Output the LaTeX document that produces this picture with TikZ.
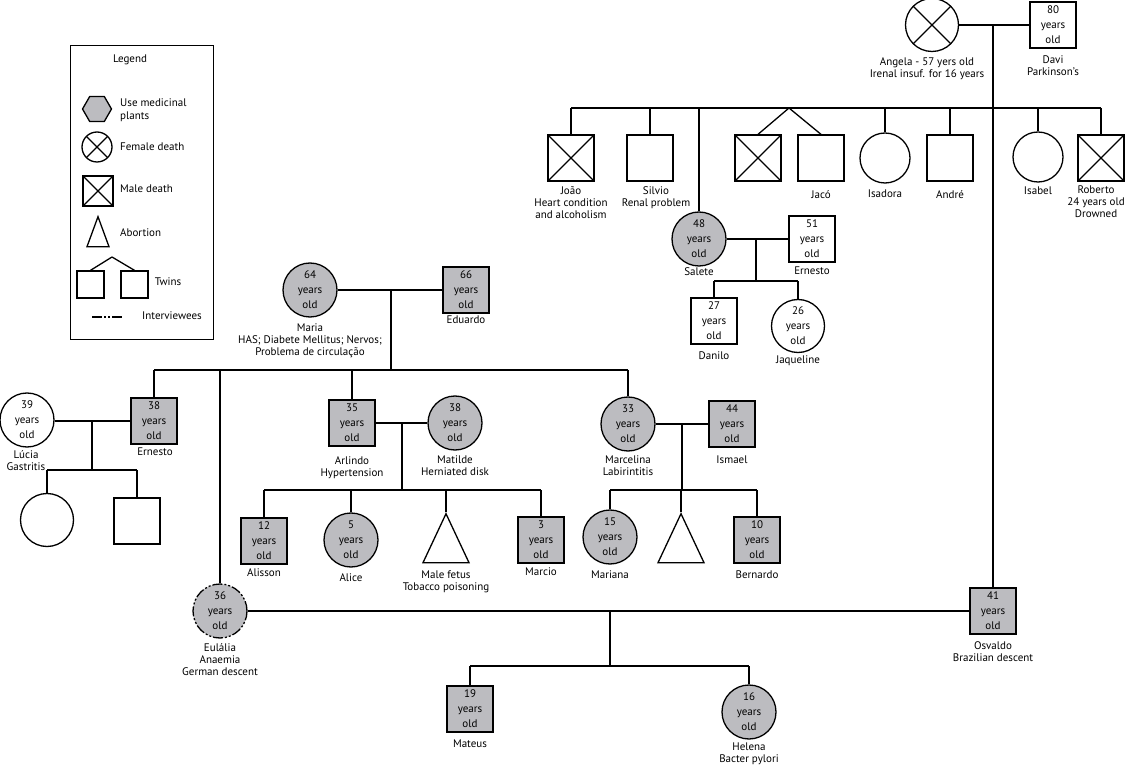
\documentclass[tikz,border=0pt]{standalone}
\usepackage{fontspec}
\setmainfont{PT Sans}
\usetikzlibrary{shapes.geometric}
\definecolor{plantgray}{RGB}{188,188,192}
\begin{document}
\begin{tikzpicture}[x=1pt,y=-1pt]
    \tikzstyle{link}=[line width=1.3pt]
    \tikzstyle{male}=[rectangle,draw,link,minimum size=46pt,inner sep=0pt,align=center,font=\fontsize{11}{15}\selectfont]
    \tikzstyle{female}=[circle,draw,link,minimum size=54pt,inner sep=0pt,align=center,font=\fontsize{11}{15}\selectfont]
    \tikzstyle{plant}=[fill=plantgray]
    \tikzstyle{dead}=[path picture={\draw[link] (path picture bounding box.north west) -- (path picture bounding box.south east) (path picture bounding box.south west) -- (path picture bounding box.north east);}]
    \tikzstyle{fetus}=[isosceles triangle,draw,link,shape border rotate=90,isosceles triangle stretches,minimum width=46pt,minimum height=49pt,inner sep=0pt,anchor=apex]
    \tikzstyle{txt}=[align=center,anchor=north,inner sep=0pt,font=\fontsize{11}{12}\selectfont]
    \tikzstyle{legtxt}=[align=left,anchor=west,inner sep=0pt,font=\fontsize{11}{13}\selectfont]
    \tikzstyle{interview}=[dash pattern=on 10pt off 2pt on 2pt off 2pt on 2pt off 2pt]
    \useasboundingbox (0,0) rectangle (1127,775);

    % legend
    \node[draw,link,minimum width=143pt,minimum height=294pt,inner sep=0pt,anchor=north west] (Legend) at (70,45) {};
    \node[font=\fontsize{11}{13}\selectfont] (LegTitle) at (130,60) {Legend};
    \node[regular polygon,regular polygon sides=6,draw,link,fill=plantgray,minimum size=29pt,inner sep=0pt] (LegPlant) at (97,109) {};
    \node[legtxt] (LegPlantT) at (120,110) {Use medicinal\\plants};
    \node[female,dead,minimum size=30pt] (LegFemale) at (97,147) {};
    \node[legtxt] (LegFemaleT) at (120,147) {Female death};
    \node[male,dead,minimum size=30pt] (LegMale) at (98,191) {};
    \node[legtxt] (LegMaleT) at (120,189) {Male death};
    \node[fetus,minimum width=22pt,minimum height=30pt] (LegFetus) at (98,215) {};
    \node[legtxt] (LegFetusT) at (120,233) {Abortion};
    \coordinate (LegTw) at (112,257);
    \node[male,minimum size=27pt] (LegTwin1) at (90.5,284.5) {};
    \node[male,minimum size=27pt] (LegTwin2) at (134.5,284.5) {};
    \node[legtxt,anchor=center] (LegTwinT) at (168,282) {Twins};
    \coordinate (LegI1) at (92,317);
    \coordinate (LegI2) at (122,317);
    \node[legtxt,anchor=center] (LegIT) at (172,316) {Interviewees};
    \draw[link] (LegTw) -- (LegTwin1.north);
    \draw[link] (LegTw) -- (LegTwin2.north);
    \draw[link,interview] (LegI1) -- (LegI2);

    % Angela and Davi
    \node[female,dead,minimum size=53pt] (Angela) at (932,25) {};
    \node[male] (Davi) at (1053,25) {80\\years\\old};
    \node[txt] (AngelaL) at (927,57) {Angela - 57 yers old\\Irenal insuf. for 16 years};
    \node[txt] (DaviL) at (1053,56) {Davi\\Parkinson's};
    \node[male,dead] (Joao) at (571,158) {};
    \node[txt] (JoaoL) at (571,186) {João\\Heart condition\\and alcoholism};
    \node[male] (Silvio) at (650,158) {};
    \node[txt] (SilvioL) at (656,186) {Silvio\\Renal problem};
    \node[male,dead] (Twin1) at (758,158) {};
    \node[male] (Twin2) at (821,158) {};
    \node[txt] (Twin2L) at (821,190) {Jacó};
    \node[female,minimum size=50pt] (Isadora) at (885,158) {};
    \node[txt] (IsadoraL) at (885,190) {Isadora};
    \node[male] (Andre) at (950,158) {};
    \node[txt] (AndreL) at (950,190) {André};
    \node[female,minimum size=50pt] (Isabel) at (1038,157) {};
    \node[txt] (IsabelL) at (1038,187) {Isabel};
    \node[male,dead] (Roberto) at (1101,158) {};
    \node[txt] (RobertoL) at (1096,186) {Roberto\\24 years old\\Drowned};
    \coordinate (D1) at (993,25);
    \coordinate (B1) at (993,108);
    \coordinate (T1) at (789,108);
    \draw[link] (Angela) -- (Davi);
    \draw[link] (B1 -| Joao) -- (B1 -| Roberto);
    \draw[link] (B1 -| Joao) -- (Joao);
    \draw[link] (B1 -| Silvio) -- (Silvio);
    \draw[link] (T1) -- (Twin1.north);
    \draw[link] (T1) -- (Twin2.north);
    \draw[link] (B1 -| Isadora) -- (Isadora);
    \draw[link] (B1 -| Andre) -- (Andre);
    \draw[link] (B1 -| Isabel) -- (Isabel);
    \draw[link] (B1 -| Roberto) -- (Roberto);

    % Salete and Ernesto
    \node[female,plant] (Salete) at (699,239) {48\\years\\old};
    \node[txt] (SaleteL) at (699,267) {Salete};
    \node[male] (ErnestoS) at (812,239) {51\\years\\old};
    \node[txt] (ErnestoSL) at (812,267) {Ernesto};
    \node[male] (Danilo) at (714,321) {27\\years\\old};
    \node[txt] (DaniloL) at (714,352) {Danilo};
    \node[female,minimum size=53pt] (Jaqueline) at (798,326) {26\\years\\old};
    \node[txt] (JaquelineL) at (798,356) {Jaqueline};
    \coordinate (D2) at (756,239);
    \coordinate (B2) at (756,281);
    \draw[link] (B1 -| Salete) -- (Salete);
    \draw[link] (Salete) -- (ErnestoS);
    \draw[link] (D2) -- (B2);
    \draw[link] (B2 -| Danilo) -- (B2 -| Jaqueline);
    \draw[link] (B2 -| Danilo) -- (Danilo);
    \draw[link] (B2 -| Jaqueline) -- (Jaqueline);

    % Maria and Eduardo
    \node[female,plant] (Maria) at (310,290) {64\\years\\old};
    \node[txt] (MariaL) at (310,324) {Maria\\HAS; Diabete Mellitus; Nervos;\\Problema de circulação};
    \node[male,plant] (Eduardo) at (466,290) {66\\years\\old};
    \node[txt] (EduardoL) at (466,316) {Eduardo};
    \coordinate (D3) at (391,290);
    \coordinate (B3) at (391,370);
    \draw[link] (Maria) -- (Eduardo);
    \draw[link] (D3) -- (B3);

    \node[male,plant] (ErnestoM) at (154,421) {38\\years\\old};
    \node[txt] (ErnestoML) at (155,448) {Ernesto};
    \node[female] (Lucia) at (27,420) {39\\years\\old};
    \node[txt] (LuciaL) at (26,450) {Lúcia\\Gastritis};
    \node[female,minimum size=53pt] (Child1) at (47,520) {};
    \node[male] (Child2) at (137,521) {};
    \coordinate (D4) at (92,421);
    \coordinate (B4) at (92,470);
    \draw[link] (Lucia.east |- ErnestoM) -- (ErnestoM);
    \draw[link] (D4) -- (B4);
    \draw[link] (B4 -| Child1) -- (B4 -| Child2);
    \draw[link] (B4 -| Child1) -- (Child1);
    \draw[link] (B4 -| Child2) -- (Child2);

    \node[male,plant] (Arlindo) at (352,423) {35\\years\\old};
    \node[txt] (ArlindoL) at (352,456) {Arlindo\\Hypertension};
    \node[female,plant] (Matilde) at (455,423) {38\\years\\old};
    \node[txt] (MatildeL) at (455,456) {Matilde\\Herniated disk};
    \node[male,plant] (Alisson) at (264,541) {12\\years\\old};
    \node[txt] (AlissonL) at (264,568) {Alisson};
    \node[female,plant] (Alice) at (351,540) {5\\years\\old};
    \node[txt] (AliceL) at (351,573) {Alice};
    \node[fetus] (Fetus1) at (446,512) {};
    \node[txt] (Fetus1L) at (446,571) {Male fetus\\Tobacco poisoning};
    \node[male,plant] (Marcio) at (541,540) {3\\years\\old};
    \node[txt] (MarcioL) at (541,568) {Marcio};
    \coordinate (D5) at (402,423);
    \coordinate (B5) at (402,490);
    \draw[link] (Arlindo) -- (Matilde);
    \draw[link] (D5) -- (B5);
    \draw[link] (B5 -| Alisson) -- (B5 -| Marcio);
    \draw[link] (B5 -| Alisson) -- (Alisson);
    \draw[link] (B5 -| Alice) -- (Alice);
    \draw[link] (B5 -| Fetus1) -- (Fetus1.apex);
    \draw[link] (B5 -| Marcio) -- (Marcio);

    \node[female,plant] (Marcelina) at (628,424) {33\\years\\old};
    \node[txt] (MarcelinaL) at (628,456) {Marcelina\\Labirintitis};
    \node[male,plant] (Ismael) at (732,424) {44\\years\\old};
    \node[txt] (IsmaelL) at (732,456) {Ismael};
    \node[female,plant] (Mariana) at (610,537) {15\\years\\old};
    \node[txt] (MarianaL) at (610,571) {Mariana};
    \node[fetus] (Fetus2) at (681,512) {};
    \node[male,plant] (Bernardo) at (757,540) {10\\years\\old};
    \node[txt] (BernardoL) at (757,571) {Bernardo};
    \coordinate (D6) at (682,424);
    \coordinate (B6) at (682,490);
    \draw[link] (Marcelina) -- (Ismael);
    \draw[link] (D6) -- (B6);
    \draw[link] (B6 -| Mariana) -- (B6 -| Bernardo);
    \draw[link] (B6 -| Mariana) -- (Mariana);
    \draw[link] (B6 -| Fetus2) -- (Fetus2.apex);
    \draw[link] (B6 -| Bernardo) -- (Bernardo);

    % Eulalia and Osvaldo
    \node[female,plant,interview] (Eulalia) at (220,611) {36\\years\\old};
    \node[txt] (EulaliaL) at (220,643) {Eulália\\Anaemia\\German descent};
    \node[male,plant] (Osvaldo) at (993,611) {41\\years\\old};
    \node[txt] (OsvaldoL) at (993,641) {Osvaldo\\Brazilian descent};
    \node[male,plant] (Mateus) at (470,709) {19\\years\\old};
    \node[txt] (MateusL) at (470,740) {Mateus};
    \node[female,plant] (Helena) at (749,712) {16\\years\\old};
    \node[txt] (HelenaL) at (749,743) {Helena\\Bacter pylori};
    \coordinate (D7) at (610,611);
    \coordinate (B7) at (610,666);
    \draw[link] (B3 -| ErnestoM) -- (B3 -| Marcelina);
    \draw[link] (B3 -| ErnestoM) -- (ErnestoM);
    \draw[link] (B3 -| Eulalia) -- (Eulalia);
    \draw[link] (B3 -| Arlindo) -- (Arlindo);
    \draw[link] (B3 -| Marcelina) -- (Marcelina);
    \draw[link] (D1) -- (Osvaldo);
    \draw[link] (Eulalia) -- (Osvaldo);
    \draw[link] (D7) -- (B7);
    \draw[link] (B7 -| Mateus) -- (B7 -| Helena);
    \draw[link] (B7 -| Mateus) -- (Mateus);
    \draw[link] (B7 -| Helena) -- (Helena);
\end{tikzpicture}
\end{document}
